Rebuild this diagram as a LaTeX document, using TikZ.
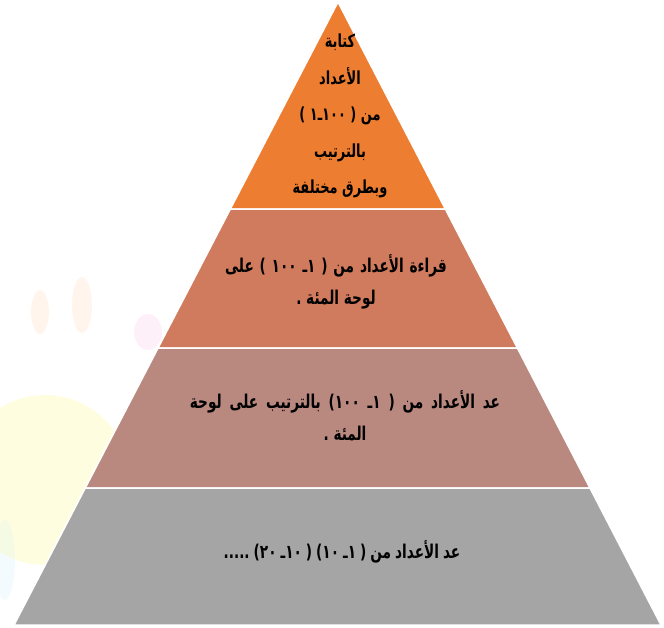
\documentclass[tikz,border=0pt]{standalone}
\usepackage{fontspec}
\newfontfamily\arabicfont[Script=Arabic,FakeStretch=0.72]{DejaVu Sans}
\TeXXeTstate=1
\usetikzlibrary{calc}
\definecolor{lvlA}{RGB}{237,125,49}
\definecolor{lvlB}{RGB}{208,123,93}
\definecolor{lvlC}{RGB}{185,137,128}
\definecolor{lvlD}{RGB}{165,165,165}
\tikzset{
  layer/.style={draw=white, line width=1.5pt, line join=miter},
  lbl/.style={align=center, text=black, inner sep=0pt,
    font=\arabicfont\bfseries\fontsize{19}{32}\selectfont},
  toplbl/.style={lbl, font=\arabicfont\bfseries\fontsize{18}{36.5}\selectfont},
}
\begin{document}
\begin{tikzpicture}[x=1pt,y=-1pt]
\useasboundingbox (0,0) rectangle (664,627);
% faint background decoration
\fill[yellow!60!white, opacity=0.2] (45,480) circle (85);
\fill[magenta!40!white, opacity=0.15] (148,332) ellipse (14 and 18);
\fill[orange!50!white, opacity=0.15] (40,312) ellipse (9 and 22);
\fill[orange!50!white, opacity=0.15] (82,305) ellipse (10 and 28);
\fill[cyan!30!white, opacity=0.15] (5,560) ellipse (10 and 40);
% pyramid corners
\coordinate (A) at (338,2);
\coordinate (L) at (14,625);
\coordinate (R) at (661,625);
\coordinate (L1) at ($(A)!0.3323!(L)$);
\coordinate (R1) at ($(A)!0.3323!(R)$);
\coordinate (L2) at ($(A)!0.5554!(L)$);
\coordinate (R2) at ($(A)!0.5554!(R)$);
\coordinate (L3) at ($(A)!0.7801!(L)$);
\coordinate (R3) at ($(A)!0.7801!(R)$);
\fill[lvlA, layer] (A) -- (R1) -- (L1) -- cycle;
\fill[lvlB, layer] (L1) -- (R1) -- (R2) -- (L2) -- cycle;
\fill[lvlC, layer] (L2) -- (R2) -- (R3) -- (L3) -- cycle;
\fill[lvlD, layer] (L3) -- (R3) -- (R) -- (L) -- cycle;
% labels
\node[toplbl] (t1) at (340,116) {%
  \beginR كتابة\endR\\
  \beginR الأعداد\endR\\
  \beginR من ( \beginL ١\kern0ptـ\kern0pt١٠٠\endL{} )\endR\\
  \beginR بالترتيب\endR\\
  \beginR وبطرق مختلفة\endR};
\node[lbl] (t2) at (336,282) {\spaceskip=5.8pt
  \beginR قراءة الأعداد من ( ١ـ ١٠٠ ) على\endR\\
  \beginR لوحة المئة .\endR};
\node[lbl] (t3) at (345,416) {\spaceskip=7.8pt
  \beginR عد الأعداد من ( ١ـ ١٠٠) بالترتيب على لوحة\endR\\
  \beginR المئة .\endR};
\node[lbl] (t4) at (342,552) {\spaceskip=4pt
  \beginR عد الأعداد من ( ١ـ ١٠) ( ١٠ـ ٢٠) .....\endR};
\end{tikzpicture}
\end{document}
